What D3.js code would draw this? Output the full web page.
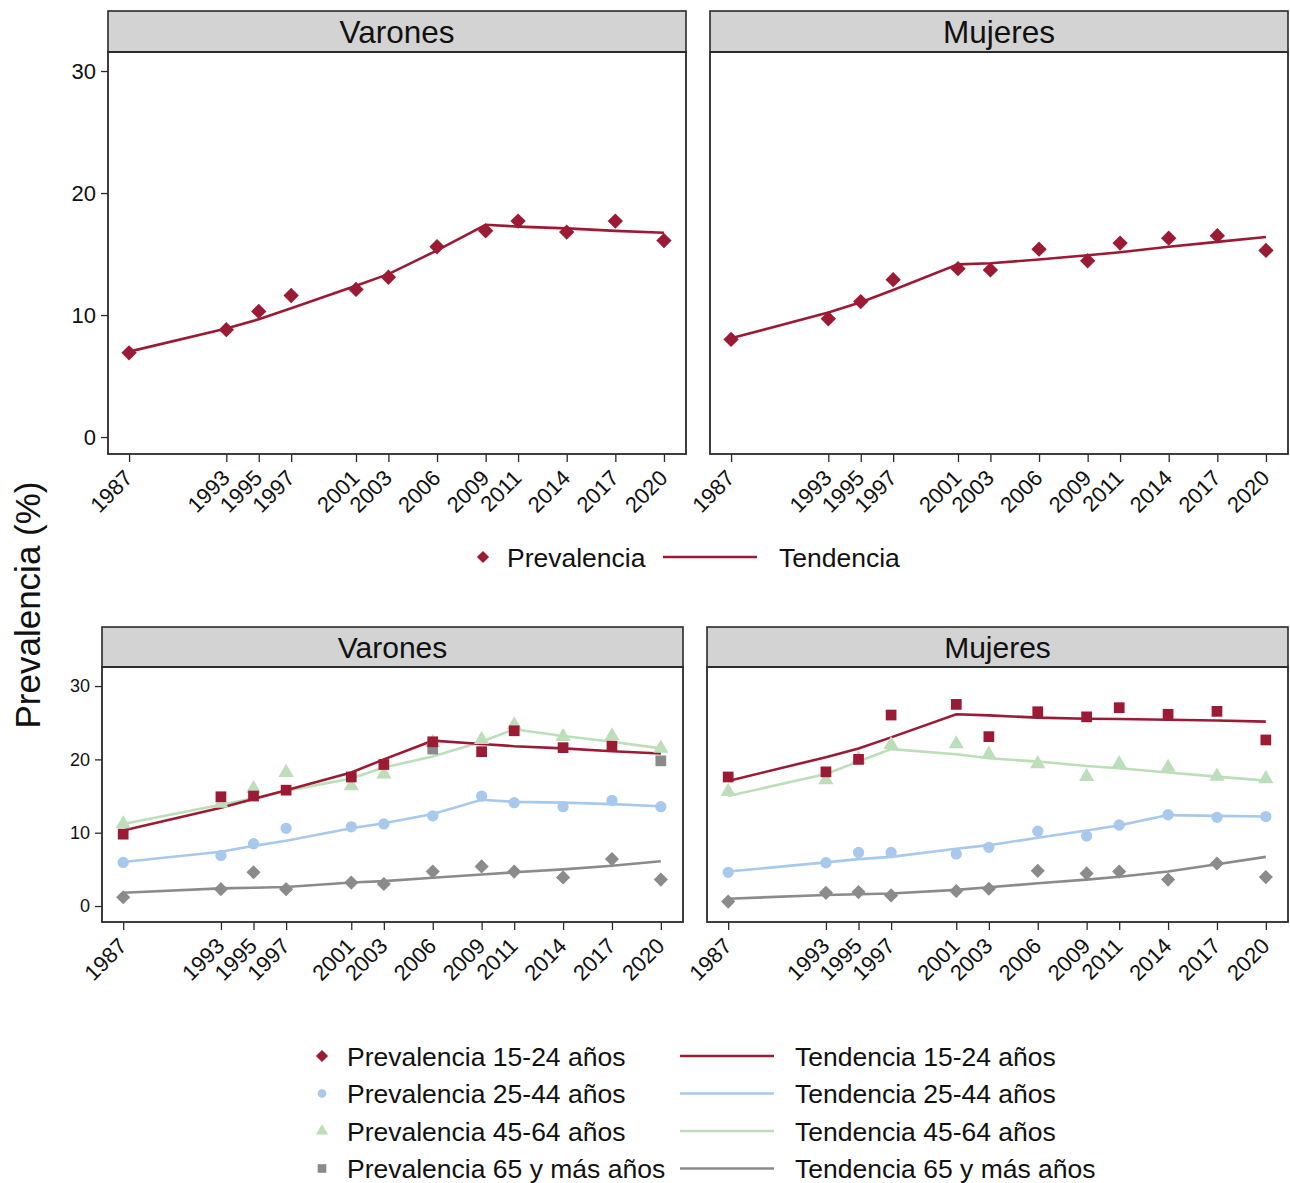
<!DOCTYPE html>
<html>
<head>
<meta charset="utf-8">
<script src="https://cdn.jsdelivr.net/npm/d3@7"></script>
<style>
  html, body { margin: 0; padding: 0; background: #fff; }
  svg { display: block; font-family: "Liberation Sans", Arial, sans-serif; }
</style>
</head>
<body>
<svg id="chart" width="1290" height="1183"></svg>
<script>
// Survey years
const anios = [1987, 1993, 1995, 1997, 2001, 2003, 2006, 2009, 2011, 2014, 2017, 2020];
const ticksY = [0, 10, 20, 30];

// Overall prevalence and joinpoint trend
const prevVarones = [6.9, 8.8, 10.3, 11.6, 12.1, 13.1, 15.6, 16.9, 17.7, 16.8, 17.7, 16.1];
const tendVarones = [7.0, 8.9, 9.65, 10.55, 12.4, 13.35, 15.3, 17.4, 17.25, 17.1, 16.9, 16.75];
const prevMujeres = [8.0, 9.7, 11.1, 12.9, 13.8, 13.7, 15.4, 14.45, 15.9, 16.3, 16.5, 15.3];
const tendMujeres = [8.1, 10.2, 11.05, 12.05, 14.15, 14.25, 14.55, 14.9, 15.15, 15.6, 16.0, 16.4];

// By age group, men
const prev1524V = [9.8, 14.9, 15.0, 15.8, 17.6, 19.3, 22.4, 21.05, 23.9, 21.6, 21.8, null];
const tend1524V = [10.3, 13.4, 14.6, 15.8, 18.2, 20.0, 22.55, 22.1, 21.8, 21.5, 21.1, 20.8];
const prev2544V = [5.95, 6.9, 8.5, 10.6, 10.8, 11.2, 12.3, 15.0, 14.1, 13.55, 14.4, 13.55];
const tend2544V = [6.0, 7.4, 8.2, 8.9, 10.6, 11.3, 12.55, 14.5, 14.2, 14.1, 13.9, 13.6];
const prev4564V = [11.2, 14.0, 16.0, 18.2, 16.4, 18.0, 22.3, 22.7, 24.7, 23.1, 23.2, 21.5];
const tend4564V = [11.2, 13.8, 14.7, 15.7, 17.4, 18.9, 20.4, 22.4, 24.1, 23.2, 22.4, 21.5];
const prev65V = [1.2, 2.3, 4.6, 2.3, 3.2, 3.0, 4.7, 5.4, 4.7, 3.9, 6.4, 3.6];
const tend65V = [1.8, 2.4, 2.5, 2.6, 3.2, 3.4, 3.85, 4.3, 4.6, 5.0, 5.5, 6.1];
const prevCuadradoGrisV = [null, null, null, null, null, null, 21.4, null, null, null, null, 19.8];

// By age group, women
const prev1524M = [17.6, 18.3, 20.0, 26.05, 27.5, 23.1, 26.5, 25.8, 27.05, 26.15, 26.55, 22.65];
const tend1524M = [17.05, 20.3, 21.5, 23.0, 26.15, 26.0, 25.7, 25.55, 25.5, 25.4, 25.3, 25.15];
const prev2544M = [4.6, 5.9, 7.3, 7.3, 7.1, 8.0, 10.2, 9.55, 11.05, 12.45, 12.1, 12.2];
const tend2544M = [4.7, 5.95, 6.4, 6.7, 7.8, 8.3, 9.3, 10.3, 11.0, 12.4, 12.3, 12.2];
const prev4564M = [15.6, 17.2, 20.0, 22.0, 22.1, 20.7, 19.4, 17.65, 19.4, 18.9, 17.7, 17.35];
const tend4564M = [15.0, 18.0, 19.7, 21.4, 20.7, 20.15, 19.7, 19.1, 18.8, 18.2, 17.65, 17.1];
const prev65M = [0.6, 1.8, 1.9, 1.45, 2.05, 2.35, 4.8, 4.45, 4.7, 3.6, 5.8, 3.95];
const tend65M = [1.0, 1.5, 1.6, 1.7, 2.2, 2.55, 3.1, 3.6, 4.0, 4.7, 5.7, 6.7];

const colRojo = "#9b1b34";
const colAzul = "#a8c9eb";
const colVerde = "#bcdeb8";
const colGris = "#8b8b8b";

// Square-cornered diamond (equal diagonals)
const symbolRombo = {
  draw(ctx, size) {
    const r = Math.sqrt(size / 2);
    ctx.moveTo(0, -r); ctx.lineTo(r, 0); ctx.lineTo(0, r); ctx.lineTo(-r, 0); ctx.closePath();
  }
};

const svg = d3.select("#chart");

// Panel layout
const panelesSup = [
  { titulo: "Varones", x0: 108, x1: 686, prev: prevVarones, tend: tendVarones, ejeY: true },
  { titulo: "Mujeres", x0: 710, x1: 1288, prev: prevMujeres, tend: tendMujeres, ejeY: false }
];
const panelesInf = [
  { titulo: "Varones", x0: 102, x1: 683, ejeY: true,
    series: [
      { prev: prev65V, tend: tend65V, color: colGris, forma: symbolRombo, area: 100 },
      { prev: prev4564V, tend: tend4564V, color: colVerde, forma: d3.symbolTriangle, area: 100 },
      { prev: prev2544V, tend: tend2544V, color: colAzul, forma: d3.symbolCircle, area: 100 },
      { prev: prevCuadradoGrisV, tend: null, color: colGris, forma: d3.symbolSquare, area: 115 },
      { prev: prev1524V, tend: tend1524V, color: colRojo, forma: d3.symbolSquare, area: 115 }
    ] },
  { titulo: "Mujeres", x0: 707, x1: 1288, ejeY: false,
    series: [
      { prev: prev65M, tend: tend65M, color: colGris, forma: symbolRombo, area: 100 },
      { prev: prev4564M, tend: tend4564M, color: colVerde, forma: d3.symbolTriangle, area: 100 },
      { prev: prev2544M, tend: tend2544M, color: colAzul, forma: d3.symbolCircle, area: 100 },
      { prev: prev1524M, tend: tend1524M, color: colRojo, forma: d3.symbolSquare, area: 115 }
    ] }
];

const dominioX = [1985.7, 2021.36];

function dibujarMarco(g, p, yStrip, yTop, yBot, fsTitulo, fsTick) {
  const x = d3.scaleLinear().domain(dominioX).range([p.x0, p.x1]);
  // strip
  g.append("rect").attr("x", p.x0).attr("y", yStrip).attr("width", p.x1 - p.x0)
    .attr("height", yTop - yStrip).attr("fill", "#d3d3d3").attr("stroke", "#2a2a2a").attr("stroke-width", 1.6);
  g.append("text").attr("x", (p.x0 + p.x1) / 2).attr("y", (yStrip + yTop) / 2)
    .attr("dy", "0.36em").attr("text-anchor", "middle").attr("font-size", fsTitulo)
    .attr("fill", "#111").text(p.titulo);
  // x axis
  const ax = g.append("g").attr("transform", `translate(0,${yBot})`)
    .call(d3.axisBottom(x).tickValues(anios).tickFormat(d3.format("d")).tickSize(8).tickSizeOuter(0));
  ax.select(".domain").remove();
  ax.selectAll(".tick line").attr("stroke", "#2a2a2a").attr("stroke-width", 1.3);
  ax.selectAll(".tick text")
    .attr("x", 0).attr("y", 0).attr("dy", "0.35em")
    .attr("transform", "translate(-1,20) rotate(-45)")
    .attr("text-anchor", "end").attr("font-size", fsTick).attr("fill", "#111")
    .attr("font-family", "'Liberation Sans', Arial, sans-serif");
  return x;
}

function dibujarEjeY(g, p, y, fsTick) {
  const ay = g.append("g").attr("transform", `translate(${p.x0},0)`)
    .call(d3.axisLeft(y).tickValues(ticksY).tickSize(7).tickPadding(5));
  ay.select(".domain").remove();
  ay.selectAll(".tick line").attr("stroke", "#2a2a2a").attr("stroke-width", 1.3);
  ay.selectAll(".tick text").attr("font-size", fsTick).attr("fill", "#111")
    .attr("font-family", "'Liberation Sans', Arial, sans-serif");
}

function dibujarBorde(g, p, yTop, yBot) {
  g.append("rect").attr("x", p.x0).attr("y", yTop).attr("width", p.x1 - p.x0)
    .attr("height", yBot - yTop).attr("fill", "none").attr("stroke", "#2a2a2a").attr("stroke-width", 1.8);
}

// Top panels: overall prevalence
panelesSup.forEach(p => {
  const g = svg.append("g");
  const yStrip = 11, yTop = 52, yBot = 454;
  const x = dibujarMarco(g, p, yStrip, yTop, yBot, 31.5, 22);
  const y = d3.scaleLinear().domain([-1.39, 31.56]).range([yBot, yTop]);
  if (p.ejeY) dibujarEjeY(g, p, y, 22);
  const linea = d3.line().x((d, i) => x(anios[i])).y(d => y(d));
  g.append("path").datum(p.tend).attr("d", linea).attr("fill", "none")
    .attr("stroke", colRojo).attr("stroke-width", 2.6);
  g.selectAll("path.pt").data(p.prev).join("path").attr("class", "pt")
    .attr("transform", (d, i) => `translate(${x(anios[i])},${y(d)})`)
    .attr("d", d3.symbol(symbolRombo, 118)).attr("fill", colRojo);
  dibujarBorde(g, p, yTop, yBot);
});

// Bottom panels: by age group
panelesInf.forEach(p => {
  const g = svg.append("g");
  const yStrip = 627, yTop = 667, yBot = 922;
  const x = dibujarMarco(g, p, yStrip, yTop, yBot, 30, 22);
  const y = d3.scaleLinear().domain([-2.18, 32.6]).range([yBot, yTop]);
  if (p.ejeY) dibujarEjeY(g, p, y, 18);
  const linea = d3.line().defined(d => d != null).x((d, i) => x(anios[i])).y(d => y(d));
  p.series.forEach(s => {
    if (!s.tend) return;
    g.append("path").datum(s.tend).attr("d", linea).attr("fill", "none")
      .attr("stroke", s.color).attr("stroke-width", 2.6);
  });
  p.series.forEach(s => {
    const pts = s.prev.map((v, i) => ({ v, i })).filter(d => d.v != null);
    g.selectAll(null).data(pts).join("path")
      .attr("transform", d => `translate(${x(anios[d.i])},${y(d.v)})`)
      .attr("d", d3.symbol(s.forma, s.area)).attr("fill", s.color);
  });
  dibujarBorde(g, p, yTop, yBot);
});

// Shared y-axis title
svg.append("text").attr("transform", "translate(27,605) rotate(-90)")
  .attr("dy", "0.36em").attr("text-anchor", "middle").attr("font-size", 35)
  .attr("fill", "#111").text("Prevalencia (%)");

// Top legend
const legSup = svg.append("g").attr("font-size", 26.5).attr("fill", "#111");
legSup.append("path").attr("transform", "translate(483,557)")
  .attr("d", d3.symbol(symbolRombo, 75)).attr("fill", colRojo);
legSup.append("text").attr("x", 507).attr("y", 557).attr("dy", "0.36em").text("Prevalencia");
legSup.append("line").attr("x1", 663).attr("x2", 757).attr("y1", 557).attr("y2", 557)
  .attr("stroke", colRojo).attr("stroke-width", 2.6);
legSup.append("text").attr("x", 779).attr("y", 557).attr("dy", "0.36em").text("Tendencia");

// Bottom legend
const gruposEdad = ["15-24 años", "25-44 años", "45-64 años", "65 y más años"];
const legColores = [colRojo, colAzul, colVerde, colGris];
const legFormas = [symbolRombo, d3.symbolCircle, d3.symbolTriangle, d3.symbolSquare];
const legAreas = [75, 60, 65, 75];
const legInf = svg.append("g").attr("font-size", 26.5).attr("fill", "#111");
gruposEdad.forEach((gr, i) => {
  const yy = 1056 + i * 37.5;
  legInf.append("path").attr("transform", `translate(322,${yy})`)
    .attr("d", d3.symbol(legFormas[i], legAreas[i])).attr("fill", legColores[i]);
  legInf.append("text").attr("x", 347).attr("y", yy).attr("dy", "0.36em").text("Prevalencia " + gr);
  legInf.append("line").attr("x1", 680).attr("x2", 774).attr("y1", yy).attr("y2", yy)
    .attr("stroke", legColores[i]).attr("stroke-width", 2.6);
  legInf.append("text").attr("x", 795).attr("y", yy).attr("dy", "0.36em").text("Tendencia " + gr);
});
</script>
</body>
</html>
